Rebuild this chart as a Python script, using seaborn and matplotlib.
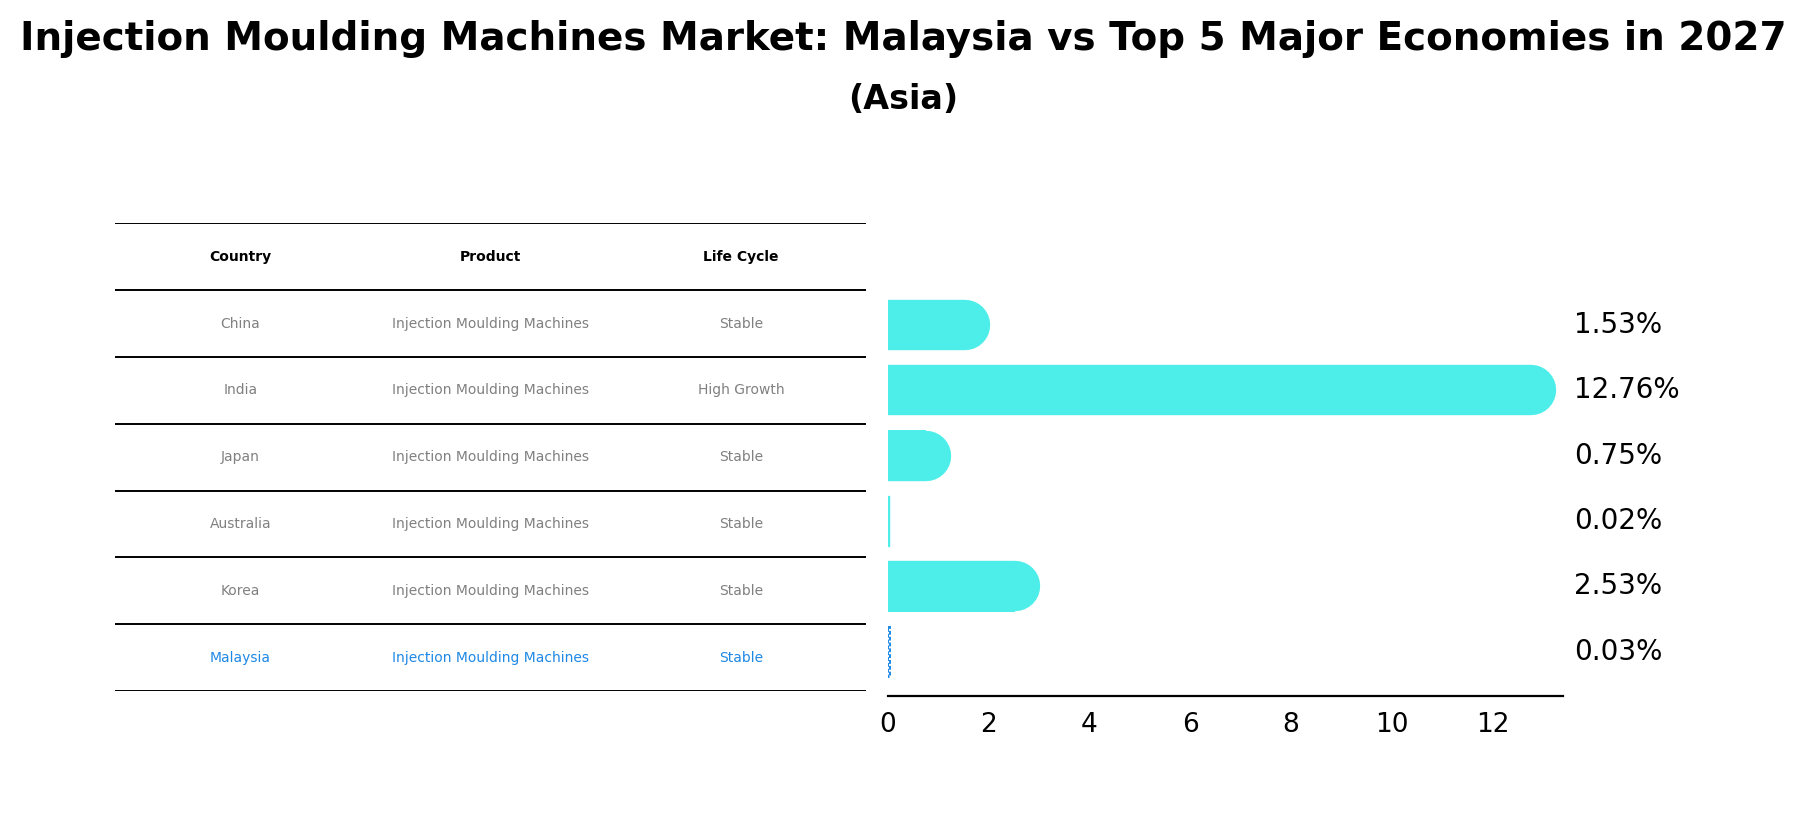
import numpy as np
import pandas as pd
import matplotlib
matplotlib.use("Agg")
import matplotlib.pyplot as plt
import matplotlib.transforms as mtransforms
import seaborn as sns

# chart data
countries = ["China", "India", "Japan", "Australia", "Korea", "Malaysia"]
product = ["Injection Moulding Machines"] * 6
life_cycle = ["Stable", "High Growth", "Stable", "Stable", "Stable", "Stable"]
share = [1.53, 12.76, 0.75, 0.02, 2.53, 0.03]
columns = ["Country", "Product", "Life Cycle"]

CYAN = "#4deeea"
BLUE = "#1e88e5"
GREY = "#808080"

df = pd.DataFrame({"country": countries, "product": product,
                   "life_cycle": life_cycle, "share": share})

sns.set_style("white")
plt.rcParams["font.family"] = ["DejaVu Sans"]
plt.rcParams["text.color"] = "black"
plt.rcParams["xtick.color"] = "black"
plt.rcParams["axes.edgecolor"] = "black"

fig = plt.figure(figsize=(9.03, 4.115), dpi=200)

fig.text(0.5, 0.953, "Injection Moulding Machines Market: Malaysia vs Top 5 Major Economies in 2027",
         ha="center", va="center", fontsize=14, fontweight="bold")
fig.text(0.5, 0.879, "(Asia)", ha="center", va="center", fontsize=12, fontweight="bold")

# ---- table on the left
tax = fig.add_axes([0.0638, 0.1603, 0.4158, 0.5682])
tax.set_xlim(0, 3)
tax.set_ylim(7, 0)
tax.axis("off")
tax.hlines(np.arange(8), 0, 3, color="black", lw=0.7)
for j, col in enumerate(columns):
    tax.text(j + 0.5, 0.5, col, ha="center", va="center", fontsize=5, fontweight="bold")
for i, row in df.iterrows():
    c = BLUE if row["country"] == "Malaysia" else GREY
    for j, key in enumerate(["country", "product", "life_cycle"]):
        tax.text(j + 0.5, i + 1.5, row[key], ha="center", va="center", fontsize=5, color=c)

# ---- bars on the right
ax_box = [0.4917, 0.1547, 0.3737, 0.5738]
ax = fig.add_axes(ax_box)
bar_h = 0.77
ylim = (5.669, -1.549)
sns.barplot(data=df, x="share", y="country", orient="h", color=CYAN,
            width=bar_h, saturation=1, linewidth=0, ax=ax)
ax.set_xlim(0, 13.4)
ax.set_ylim(*ylim)

# very small bars still show as a thin line
ax.patches[3].set_edgecolor(CYAN)
ax.patches[3].set_linewidth(0.5)

# Malaysia drawn as a dashed outline
mal = ax.patches[-1]
mal.set_facecolor("none")
mal.set_edgecolor(BLUE)
mal.set_linestyle((0, (2, 1)))
mal.set_linewidth(0.7)

# rounded right ends
px_per_unit = ax_box[3] * 4.115 * 200 / (ylim[0] - ylim[1])
lw_pt = bar_h * px_per_unit * 72 / 200
for i, v in enumerate(share):
    if v >= 0.1:
        ax.plot([0, v], [i, i], color=CYAN, lw=lw_pt, solid_capstyle="round")

trans = mtransforms.blended_transform_factory(ax.transAxes, ax.transData)
for i, v in enumerate(share):
    ax.text(1.017, i, f"{v:.2f}%", transform=trans, va="center", ha="left", fontsize=10)

sns.despine(ax=ax, left=True)
ax.set_yticks([])
ax.set_xlabel("")
ax.set_ylabel("")
ax.set_xticks(np.arange(0, 13, 2))
ax.tick_params(axis="x", labelsize=9.5, length=3.5, width=0.8, pad=2.5)
ax.spines["bottom"].set_linewidth(0.8)

fig.savefig("out.png", dpi=200)
